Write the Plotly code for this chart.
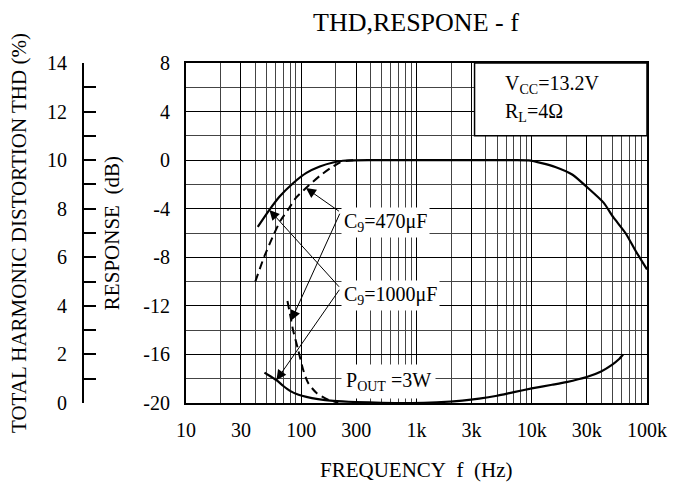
import numpy as np
import plotly.graph_objects as go

FONT = "Liberation Serif, Times New Roman, serif"

# ---- data ----
# frequency response, C9 = 1000uF (solid)
resp_1000_f = [42, 53, 65, 85, 111, 145, 189, 230, 400, 1000, 3000, 7000, 9400,
               12200, 16000, 22600, 30000, 42000, 51000, 65000, 80000, 100000]
resp_1000_db = [-5.5, -4.1, -3.0, -1.9, -1.05, -0.52, -0.19, -0.05, 0, 0, 0, 0, -0.02,
                -0.24, -0.56, -1.2, -2.2, -3.5, -4.7, -6.0, -7.5, -9.0]

# frequency response, C9 = 470uF (dashed)
resp_470_f = [40, 48, 58, 66, 78, 90, 110, 145, 180, 216, 250, 300]
resp_470_db = [-10.0, -7.9, -6.1, -5.0, -4.0, -3.1, -2.3, -1.3, -0.65, -0.2, -0.05, 0]

# THD, C9 = 1000uF (solid)
thd_1000_f = [48, 54, 61, 70, 80, 95, 111, 140, 190, 300, 500, 900, 1500, 2500, 3500,
              5000, 7000, 10000, 15000, 20000, 30000, 40000, 50000, 57000, 62000]
thd_1000 = [1.25, 1.1, 0.94, 0.7, 0.5, 0.34, 0.25, 0.16, 0.09, 0.04, 0.01, 0.0, 0.03,
            0.1, 0.18, 0.3, 0.45, 0.6, 0.75, 0.86, 1.07, 1.3, 1.58, 1.8, 2.0]

# THD, C9 = 470uF (dashed)
thd_470_f = [76, 79, 82, 85, 94, 104, 115, 136, 171, 210]
thd_470 = [4.2, 3.8, 3.4, 3.0, 2.2, 1.37, 0.82, 0.41, 0.14, 0.02]

# axes
x_tickvals = [10, 30, 100, 300, 1000, 3000, 10000, 30000, 100000]
x_ticktext = ["10", "30", "100", "300", "1k", "3k", "10k", "30k", "100k"]
x_minor = [m * 10 ** d for d in range(1, 5) for m in range(1, 10)
           if m * 10 ** d not in x_tickvals] + [100000]
db_tickvals = list(range(-20, 9, 4))
db_ticktext = [str(v) for v in db_tickvals]   # plain hyphen minus
thd_tickvals = list(range(0, 15))
thd_ticktext = [str(v) if v % 2 == 0 else "" for v in thd_tickvals]

fig = go.Figure()
fig.add_trace(go.Scatter(x=resp_1000_f, y=resp_1000_db, mode="lines",
                         line=dict(color="black", width=2.2, shape="spline", smoothing=0.6)))
fig.add_trace(go.Scatter(x=resp_470_f, y=resp_470_db, mode="lines",
                         line=dict(color="black", width=2, dash="8px,5px", shape="spline", smoothing=0.6)))
fig.add_trace(go.Scatter(x=thd_1000_f, y=thd_1000, mode="lines", yaxis="y2",
                         line=dict(color="black", width=2.2, shape="spline", smoothing=0.6)))
fig.add_trace(go.Scatter(x=thd_470_f, y=thd_470, mode="lines", yaxis="y2",
                         line=dict(color="black", width=2, dash="8px,5px", shape="spline", smoothing=0.6)))

ann = []

def arrow(tip_f, tip_y, tail_f, tail_y, yref):
    ann.append(dict(x=np.log10(tip_f), y=tip_y, xref="x", yref=yref,
                    ax=np.log10(tail_f), ay=tail_y, axref="x", ayref=yref,
                    text="", showarrow=True, arrowhead=2, arrowsize=2,
                    arrowwidth=1, arrowcolor="black"))

# leader vertices (dB); THD scale = (dB + 20) / 2
v470 = (219, -4.29)
v1000 = (219, -10.55)
arrow(110, -2.3, v470[0], v470[1], "y")
arrow(82, 3.4, v470[0], (v470[1] + 20) / 2, "y2")
arrow(53, -4.1, v1000[0], v1000[1], "y")
arrow(61, 0.94, v1000[0], (v1000[1] + 20) / 2, "y2")

def label(text, x, y, size=20, bg=None, xanchor="left", angle=0, pad=1):
    d = dict(text=text, x=x, y=y, xref="x domain", yref="y domain",
             xanchor=xanchor, yanchor="middle", showarrow=False, textangle=angle,
             font=dict(family=FONT, size=size, color="black"), borderpad=pad)
    if bg:
        d["bgcolor"] = bg
    ann.append(d)

label("C<sub>9</sub>=470\u03bcF", 0.337, 0.53, size=20, bg="white", pad=2)
label("C<sub>9</sub>=1000\u03bcF", 0.337, 0.315, size=20, bg="white", pad=2)
label("P<sub>OUT</sub>\u00a0=3W", 0.337, 0.064, size=20, bg="white", pad=4)
label("V<sub>CC</sub>=13.2V", 0.687, 0.937, size=20)
label("R<sub>L</sub>=4\u03a9", 0.687, 0.855, size=20)
label("THD,RESPONE - f", 0.5, 1.119, size=26, xanchor="center", pad=0)
label("FREQUENCY\u00a0\u00a0f\u00a0\u00a0(Hz)", 0.5, -0.196, size=21, xanchor="center")
label("RESPONSE\u00a0\u00a0(dB)", -0.16, 0.5, size=21, xanchor="center", angle=-90)
label("TOTAL HARMONIC DISTORTION THD (%)", -0.362, 0.5, size=21, xanchor="center", angle=-90)

# page body has an 8px offset, margins compensate
fig.update_layout(
    width=691, height=493,
    margin=dict(l=75, r=51.5, t=55.3, b=97.7, pad=0),
    paper_bgcolor="white", plot_bgcolor="white",
    showlegend=False,
    font=dict(family=FONT, size=20, color="black"),
    annotations=ann,
    shapes=[dict(type="rect", xref="x domain", yref="y domain",
                 x0=0.626, x1=1, y0=22 / 28, y1=1,
                 fillcolor="white", line=dict(color="black", width=1.5), layer="above")],
    xaxis=dict(type="log", range=[1, 5], domain=[103 / 564.5, 1],
               tickmode="array", tickvals=x_tickvals, ticktext=x_ticktext,
               showgrid=True, gridcolor="black", gridwidth=1,
               minor=dict(tickmode="array", tickvals=x_minor, showgrid=True,
                          gridcolor="#444", gridwidth=1, ticks=""),
               showline=True, mirror=True, linecolor="black", linewidth=2,
               ticks="", ticklabelstandoff=8, zeroline=False, automargin=False),
    yaxis=dict(range=[-20, 8], tickmode="array", tickvals=db_tickvals, ticktext=db_ticktext,
               showgrid=True, gridcolor="black", gridwidth=1,
               minor=dict(dtick=2, tick0=0, showgrid=True, gridcolor="#444",
                          gridwidth=1, ticks=""),
               showline=True, mirror=True, linecolor="black", linewidth=2,
               ticks="", ticklabelstandoff=10, zeroline=False, automargin=False),
    yaxis2=dict(range=[0, 14], overlaying="y", anchor="free", position=0, side="left",
                tickmode="array", tickvals=thd_tickvals, ticktext=thd_ticktext,
                ticks="inside", ticklen=12, tickwidth=1.5, tickcolor="black",
                showline=True, linecolor="black", linewidth=2,
                showgrid=False, zeroline=False, ticklabelstandoff=11, automargin=False),
)

fig.write_html("out.html")
